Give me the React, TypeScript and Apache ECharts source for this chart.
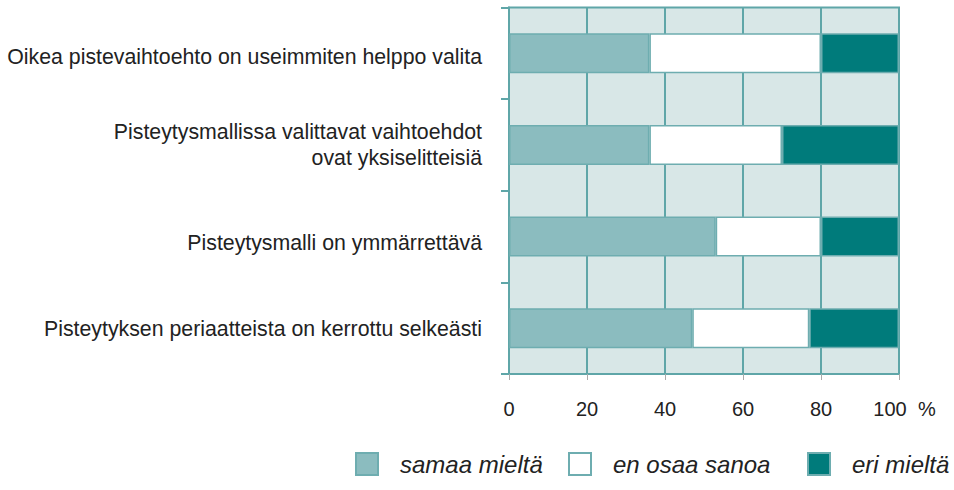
import React, { useEffect, useRef } from "react";
import * as echarts from "echarts";

const categories = [
  "Oikea pistevaihtoehto on useimmiten helppo valita",
  "Pisteytysmallissa valittavat vaihtoehdot\novat yksiselitteisiä",
  "Pisteytysmalli on ymmärrettävä",
  "Pisteytyksen periaatteista on kerrottu selkeästi",
];
const seriesNames = ["samaa mieltä", "en osaa sanoa", "eri mieltä"];
const samaaMielta = [36, 36, 53, 47];
const enOsaaSanoa = [44, 34, 27, 30];
const eriMielta = [20, 30, 20, 23];
const xMin = 0;
const xMax = 100;
const xStep = 20;
const unitLabel = "%";

// vertical nudge of each category label (px, positive = down)
const labelShift = [4, 0, 6, 1];

const GRID_LINE = "#5fa6a8";
const BAR_BORDER = "#6eadb0";
const BG = "#d8e7e7";
const TEXT = "#222222";
const FONT = "'Liberation Sans', Arial, Helvetica, sans-serif";
const LABEL_SIZE = 21.3;

export default function App() {
  const ref = useRef<HTMLDivElement>(null);
  useEffect(() => {
    if (!ref.current) return;
    const chart = echarts.init(ref.current, undefined, { renderer: "svg" });
    const colors = ["#8bbcbf", "#ffffff", "#007b7b"];
    const values = [samaaMielta, enOsaaSanoa, eriMielta];
    const legendLefts = [355, 568, 807];
    const rich: Record<string, any> = {};
    labelShift.forEach((s, i) => {
      rich["s" + i] = {
        fontSize: LABEL_SIZE,
        fontFamily: FONT,
        color: TEXT,
        lineHeight: 26,
        padding: s >= 0 ? [s * 2, 0, 0, 0] : [0, 0, -s * 2, 0],
      };
    });
    chart.setOption({
      animation: false,
      backgroundColor: "#ffffff",
      grid: {
        left: 509,
        right: 55,
        top: 7.5,
        bottom: 116,
        show: true,
        backgroundColor: BG,
        borderColor: GRID_LINE,
        borderWidth: 2,
      },
      xAxis: {
        type: "value",
        min: xMin,
        max: xMax,
        interval: xStep,
        axisLine: { show: false },
        axisTick: { show: true, length: 6, lineStyle: { color: "#aaaaaa", width: 1 } },
        splitLine: { show: true, lineStyle: { color: GRID_LINE, width: 2 } },
        axisLabel: {
          margin: 25,
          fontSize: 20,
          fontFamily: FONT,
          color: TEXT,
          formatter: (v: number) => (v === xMax ? `{r|${v}}` : `${v}`),
          rich: {
            r: { fontSize: 20, fontFamily: FONT, color: TEXT, padding: [0, 18, 0, 0] },
          },
        },
      },
      yAxis: {
        type: "category",
        inverse: true,
        data: categories,
        axisLine: { show: true, lineStyle: { color: GRID_LINE, width: 2 } },
        axisTick: { show: true, length: 8, lineStyle: { color: GRID_LINE, width: 2 } },
        splitLine: { show: false },
        axisLabel: {
          margin: 27,
          fontSize: LABEL_SIZE,
          lineHeight: 26,
          fontFamily: FONT,
          color: TEXT,
          align: "right",
          formatter: (v: string, i: number) =>
            v.indexOf("\n") >= 0 || labelShift[i] === 0 ? v : `{s${i}|${v}}`,
          rich,
        },
      },
      legend: seriesNames.map((n, i) => ({
        data: [n],
        left: legendLefts[i],
        top: 452,
        padding: 0,
        itemWidth: 22,
        itemHeight: 22,
        icon: "rect",
        textStyle: {
          fontSize: 24,
          fontStyle: "italic",
          fontFamily: FONT,
          color: TEXT,
          padding: [0, 0, 0, 17],
        },
      })),
      graphic: [
        {
          type: "text",
          left: 918,
          top: 399,
          style: { text: unitLabel, fontSize: 20, fontFamily: FONT, fill: TEXT },
        },
      ],
      series: seriesNames.map((n, i) => ({
        name: n,
        type: "bar",
        stack: "total",
        barWidth: 40,
        data: values[i],
        itemStyle: { color: colors[i], borderColor: BAR_BORDER, borderWidth: 1.5 },
      })),
    });
    return () => chart.dispose();
  }, []);
  return (
    <div
      ref={ref}
      style={{ position: "fixed", left: 0, top: 0, width: 954, height: 490, background: "#fff" }}
    />
  );
}
